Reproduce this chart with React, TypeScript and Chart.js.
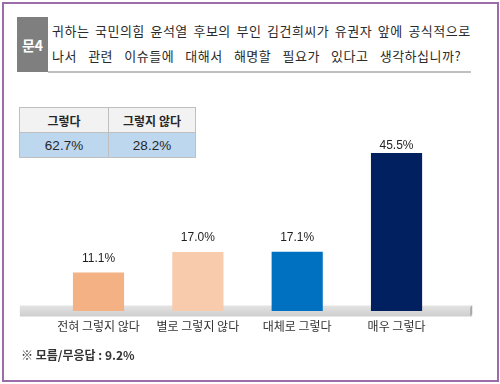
import React, { useEffect, useRef } from "react";
import { Chart, registerables } from "chart.js";

Chart.register(...registerables);

const categories = ["전혀 그렇지 않다", "별로 그렇지 않다", "대체로 그렇다", "매우 그렇다"];
const values = [11.1, 17.0, 17.1, 45.5];
const barColors = ["#F4B183", "#F8CBAD", "#0070C0", "#002060"];
const summaryHeaders = ["그렇다", "그렇지 않다"];
const summaryValues = ["62.7%", "28.2%"];
const questionNo = "문4";
const questionLines = [
  "귀하는 국민의힘 윤석열 후보의 부인 김건희씨가 유권자 앞에 공식적으로",
  "나서 관련 이슈들에 대해서 해명할 필요가 있다고 생각하십니까?",
];
const footnote = "※ 모름/무응답 : 9.2%";

const KR = '"Noto Sans CJK KR", "Noto Sans", sans-serif';
const LAT = '"Liberation Sans", Arial, sans-serif';

const floorPlugin = {
  id: "floor",
  beforeDatasetsDraw(chart: any) {
    const { ctx, chartArea, scales } = chart;
    const y0 = scales.y.getPixelForValue(0);
    const x1 = chartArea.left - 29;
    const x2 = chartArea.right + 26;
    ctx.save();
    const g = ctx.createLinearGradient(0, y0 - 6, 0, y0 + 6);
    g.addColorStop(0, "#E4E4E4");
    g.addColorStop(1, "#CDCDCD");
    ctx.fillStyle = g;
    ctx.fillRect(x1, y0 - 5.5, x2 - x1, 11);
    ctx.fillStyle = "#A8A8A8";
    ctx.beginPath();
    ctx.moveTo(x2 - 2, y0 - 3.5);
    ctx.lineTo(x2, y0 - 6);
    ctx.lineTo(x2, y0 + 3);
    ctx.lineTo(x2 - 2, y0 + 5.5);
    ctx.closePath();
    ctx.fill();
    ctx.restore();
  },
};

const valueLabelPlugin = {
  id: "valueLabels",
  afterDatasetsDraw(chart: any) {
    const { ctx, chartArea } = chart;
    const meta = chart.getDatasetMeta(0);
    ctx.save();
    ctx.font = `12px ${LAT}`;
    ctx.fillStyle = "#1F1F1F";
    ctx.textAlign = "center";
    ctx.textBaseline = "middle";
    meta.data.forEach((bar: any, i: number) => {
      const v = chart.data.datasets[0].data[i] as number;
      const y = Math.max(bar.y - 14, chartArea.top + 8.5);
      ctx.fillText(v.toFixed(1) + "%", bar.x, y);
    });
    ctx.restore();
  },
};

function BarChart() {
  const ref = useRef<HTMLCanvasElement | null>(null);
  useEffect(() => {
    if (!ref.current) return;
    const chart = new Chart(ref.current, {
      type: "bar",
      data: {
        labels: categories,
        datasets: [
          {
            data: values,
            backgroundColor: barColors,
            borderWidth: 0,
            categoryPercentage: 1,
            barPercentage: 0.515,
          },
        ],
      },
      options: {
        responsive: false,
        animation: false,
        devicePixelRatio: 1,
        layout: { padding: { left: 48.85, right: 53.8, top: 137.5, bottom: 0 } },
        plugins: { legend: { display: false }, tooltip: { enabled: false } },
        scales: {
          x: {
            grid: { display: false, drawTicks: false },
            border: { display: false },
            ticks: {
              color: "#333333",
              padding: 8,
              font: { family: KR, size: 12 },
              maxRotation: 0,
              autoSkip: false,
            },
            afterFit(scale: any) {
              scale.height = 73;
            },
          },
          y: { display: false, min: 0, max: 50 },
        },
      },
      plugins: [floorPlugin, valueLabelPlugin],
    });
    return () => chart.destroy();
  }, []);
  return (
    <canvas
      ref={ref}
      width={500}
      height={384}
      style={{ position: "absolute", left: 0, top: 0, width: 500, height: 384 }}
    />
  );
}

export default function App() {
  const cell: React.CSSProperties = {
    border: "1px solid #BFBFBF",
    textAlign: "center",
    padding: 0,
    height: 24,
  };
  return (
    <div
      style={{
        position: "absolute",
        left: 0,
        top: 0,
        width: 500,
        height: 384,
        background: "#FFFFFF",
        overflow: "hidden",
      }}
    >
      <div
        style={{
          position: "absolute",
          left: 2,
          top: 2,
          width: 497,
          height: 380,
          boxSizing: "border-box",
          border: "2px solid #9B6CA8",
        }}
      />
      <div
        style={{
          position: "absolute",
          left: 17,
          top: 17,
          width: 31,
          height: 55,
          background: "#7F7F7F",
          color: "#FFFFFF",
          fontFamily: KR,
          fontSize: 14,
          fontWeight: "bold",
          display: "flex",
          alignItems: "center",
          justifyContent: "center",
        }}
      >
        {questionNo}
      </div>
      <div
        style={{
          position: "absolute",
          left: 48,
          top: 71,
          width: 423,
          height: 2,
          background: "#BFBFBF",
        }}
      />
      {questionLines.map((t, i) => (
        <div
          key={i}
          style={{
            position: "absolute",
            left: 52,
            top: 22 + i * 25,
            fontFamily: KR,
            fontSize: 13,
            lineHeight: "18px",
            color: "#2A2A2A",
            whiteSpace: "nowrap",
            letterSpacing: 0.5,
            wordSpacing: i === 0 ? 2.2 : 7.8,
          }}
        >
          {t}
        </div>
      ))}
      <table
        style={{
          position: "absolute",
          left: 19,
          top: 107,
          width: 174,
          borderCollapse: "collapse",
          tableLayout: "fixed",
        }}
      >
        <tbody>
          <tr style={{ background: "#F2F2F2" }}>
            {summaryHeaders.map((h, i) => (
              <td
                key={i}
                style={{
                  ...cell,
                  width: i === 0 ? 88 : 86,
                  fontFamily: KR,
                  fontSize: 12,
                  fontWeight: "bold",
                  color: "#262626",
                }}
              >
                {h}
              </td>
            ))}
          </tr>
          <tr style={{ background: "#BDD7EE" }}>
            {summaryValues.map((v, i) => (
              <td
                key={i}
                style={{ ...cell, fontFamily: LAT, fontSize: 13.5, color: "#262626" }}
              >
                {v}
              </td>
            ))}
          </tr>
        </tbody>
      </table>
      <BarChart />
      <div
        style={{
          position: "absolute",
          left: 21,
          top: 346,
          fontFamily: KR,
          fontSize: 12,
          fontWeight: "bold",
          color: "#333333",
          whiteSpace: "nowrap",
        }}
      >
        {footnote}
      </div>
    </div>
  );
}
